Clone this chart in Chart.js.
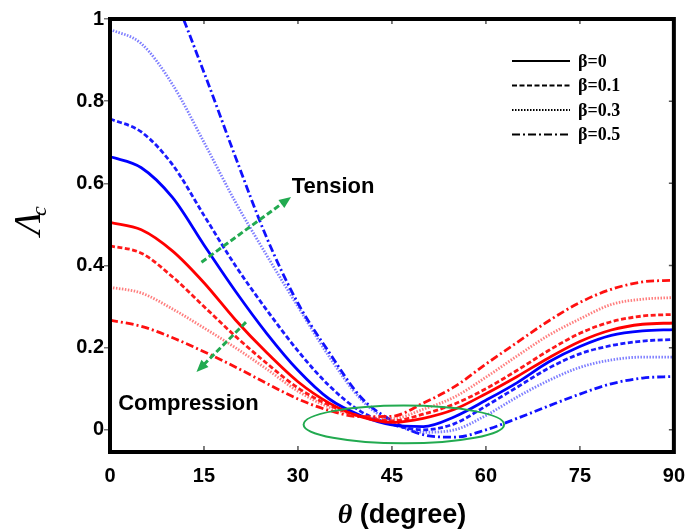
<!DOCTYPE html>
<html>
<head>
<meta charset="utf-8">
<script src="https://cdn.jsdelivr.net/npm/chart.js@4.4.1/dist/chart.umd.min.js"></script>
<style>
  html, body { margin: 0; padding: 0; background: #fff; }
  #wrap { width: 689px; height: 529px; }
</style>
</head>
<body>
<div id="wrap"><canvas id="chart" width="689" height="529"></canvas></div>
<script>
// --- Data ---
const angles = [0, 5, 10, 15, 20, 25, 30, 35, 40, 45, 50, 55, 60, 65, 70, 75, 80, 85, 90];
const tickX = [0, 15, 30, 45, 60, 75, 90];
const tickY = [0, 0.2, 0.4, 0.6, 0.8, 1];
const betaLabels = ['β=0', 'β=0.1', 'β=0.3', 'β=0.5'];

// compression branch (red)
const redB0  = [0.505, 0.487, 0.435, 0.358, 0.268, 0.188, 0.117, 0.065, 0.032, 0.018, 0.028, 0.050, 0.088, 0.130, 0.175, 0.215, 0.243, 0.257, 0.260];
const redB01 = [0.448, 0.430, 0.372, 0.300, 0.228, 0.162, 0.102, 0.060, 0.033, 0.022, 0.038, 0.063, 0.100, 0.145, 0.193, 0.235, 0.263, 0.277, 0.281];
const redB03 = [0.347, 0.333, 0.294, 0.248, 0.200, 0.148, 0.094, 0.055, 0.033, 0.027, 0.050, 0.080, 0.128, 0.180, 0.230, 0.270, 0.305, 0.318, 0.322];
const redB05 = [0.267, 0.252, 0.224, 0.190, 0.153, 0.113, 0.075, 0.047, 0.032, 0.033, 0.065, 0.105, 0.160, 0.213, 0.265, 0.310, 0.342, 0.360, 0.364];

// tension branch (blue)
const blueB0  = [0.665, 0.638, 0.565, 0.450, 0.338, 0.235, 0.145, 0.075, 0.035, 0.012, 0.008, 0.032, 0.072, 0.115, 0.165, 0.203, 0.230, 0.241, 0.244];
const blueB01 = [0.757, 0.725, 0.645, 0.522, 0.400, 0.292, 0.192, 0.107, 0.045, 0.013, 0.000, 0.015, 0.058, 0.104, 0.150, 0.185, 0.205, 0.216, 0.220];
const blueB03 = [0.975, 0.940, 0.840, 0.700, 0.555, 0.425, 0.300, 0.178, 0.075, 0.018, -0.006, 0.000, 0.035, 0.080, 0.120, 0.152, 0.170, 0.177, 0.177];
const blueB05 = [1.240, 1.190, 1.060, 0.870, 0.665, 0.468, 0.308, 0.188, 0.080, 0.022, -0.012, -0.018, 0.000, 0.028, 0.058, 0.087, 0.112, 0.126, 0.130];

// --- Styles ---
const dashes = [[], [5, 2.5], [1.5, 1.5], [8, 3, 2, 3]];
const redColors = ['#ff0000', '#ff1a1a', 'rgba(255,40,40,0.6)', '#ff1010'];
const blueColors = ['#0000ff', '#1a1aff', 'rgba(40,40,255,0.6)', '#1010ff'];
const green = '#22aa50';

const redSets = [redB0, redB01, redB03, redB05];
const blueSets = [blueB0, blueB01, blueB03, blueB05];

function pts(vals) {
    return angles.map((a, i) => ({ x: a, y: vals[i] }));
}

const datasets = [];
redSets.forEach((vals, i) => {
    datasets.push({ label: 'C ' + betaLabels[i], data: pts(vals), borderColor: redColors[i], borderDash: dashes[i] });
});
blueSets.forEach((vals, i) => {
    datasets.push({ label: 'T ' + betaLabels[i], data: pts(vals), borderColor: blueColors[i], borderDash: dashes[i] });
});

// annotation positions in data units
const tensionArrow = { from: [14.6, 0.408], to: [28.9, 0.567] };
const compArrow = { from: [21.7, 0.262], to: [13.8, 0.141] };
const minEllipse = { cx: 46.9, cy: 0.013, rx: 16.0, ry: 0.046 };

function drawArrow(ctx, x, y, a) {
    const x0 = x.getPixelForValue(a.from[0]), y0 = y.getPixelForValue(a.from[1]);
    const x1 = x.getPixelForValue(a.to[0]), y1 = y.getPixelForValue(a.to[1]);
    const ang = Math.atan2(y1 - y0, x1 - x0);
    const head = 12;
    ctx.strokeStyle = green;
    ctx.fillStyle = green;
    ctx.lineWidth = 3;
    ctx.setLineDash([6, 3]);
    ctx.beginPath();
    ctx.moveTo(x0, y0);
    ctx.lineTo(x1 - head * 0.7 * Math.cos(ang), y1 - head * 0.7 * Math.sin(ang));
    ctx.stroke();
    ctx.setLineDash([]);
    ctx.beginPath();
    ctx.moveTo(x1, y1);
    ctx.lineTo(x1 - head * Math.cos(ang) + 5 * Math.sin(ang), y1 - head * Math.sin(ang) - 5 * Math.cos(ang));
    ctx.lineTo(x1 - head * Math.cos(ang) - 5 * Math.sin(ang), y1 - head * Math.sin(ang) + 5 * Math.cos(ang));
    ctx.closePath();
    ctx.fill();
}

const decorPlugin = {
    id: 'decor',
    afterDatasetsDraw(chart) {
        const { ctx, chartArea: a, scales: { x, y } } = chart;
        ctx.save();

        // inner ticks (bottom, top, right)
        ctx.strokeStyle = '#555';
        ctx.lineWidth = 1.5;
        ctx.beginPath();
        tickX.forEach(v => {
            const px = x.getPixelForValue(v);
            ctx.moveTo(px, a.bottom); ctx.lineTo(px, a.bottom - 6);
            ctx.moveTo(px, a.top); ctx.lineTo(px, a.top + 5);
        });
        tickY.forEach(v => {
            const py = y.getPixelForValue(v);
            ctx.moveTo(a.right, py); ctx.lineTo(a.right - 5, py);
        });
        ctx.stroke();

        // frame
        ctx.strokeStyle = '#000';
        ctx.lineWidth = 4;
        ctx.strokeRect(a.left, a.top, a.right - a.left, a.bottom - a.top);

        // ellipse around the minima
        ctx.strokeStyle = green;
        ctx.lineWidth = 2;
        ctx.beginPath();
        const ecx = x.getPixelForValue(minEllipse.cx), ecy = y.getPixelForValue(minEllipse.cy);
        const erx = x.getPixelForValue(minEllipse.cx + minEllipse.rx) - ecx;
        const ery = ecy - y.getPixelForValue(minEllipse.cy + minEllipse.ry);
        ctx.ellipse(ecx, ecy, erx, ery, 0, 0, Math.PI * 2);
        ctx.stroke();

        drawArrow(ctx, x, y, tensionArrow);
        drawArrow(ctx, x, y, compArrow);

        // annotation text
        ctx.fillStyle = '#000';
        ctx.font = 'bold 22px "Liberation Sans", Arial, sans-serif';
        ctx.textAlign = 'left';
        ctx.textBaseline = 'middle';
        ctx.fillText('Tension', x.getPixelForValue(29.0), y.getPixelForValue(0.591));
        ctx.fillText('Compression', x.getPixelForValue(1.3), y.getPixelForValue(0.063));

        // legend (top right)
        const lx0 = 512, lx1 = 570, ly0 = 61, lstep = 24.5;
        betaLabels.forEach((lab, i) => {
            const ly = ly0 + i * lstep;
            ctx.strokeStyle = '#000';
            ctx.lineWidth = 2;
            ctx.setLineDash(dashes[i]);
            ctx.beginPath();
            ctx.moveTo(lx0, ly); ctx.lineTo(lx1, ly);
            ctx.stroke();
            ctx.setLineDash([]);
            ctx.font = 'bold 18px "Liberation Serif", "Times New Roman", serif';
            ctx.fillText(lab, 578, ly + 1);
        });

        // x axis title: θ (degree)
        const fTheta = 'bold italic 28px "Liberation Serif", serif';
        const fDeg = 'bold 27px "Liberation Sans", Arial, sans-serif';
        ctx.font = fTheta;
        const wT = ctx.measureText('θ').width;
        ctx.font = fDeg;
        const wD = ctx.measureText(' (degree)').width;
        const tx = (a.left + a.right) / 2 - (wT + wD) / 2 + 10;
        ctx.textBaseline = 'alphabetic';
        ctx.font = fTheta;
        ctx.fillText('θ', tx, 523);
        ctx.font = fDeg;
        ctx.fillText(' (degree)', tx + wT, 523);

        // y axis title: Λc (rotated)
        ctx.translate(40, 235);
        ctx.rotate(-Math.PI / 2);
        ctx.font = 'italic 38px "Liberation Serif", serif';
        ctx.fillText('Λ', 0, 0);
        const wL = ctx.measureText('Λ').width;
        ctx.font = 'italic 22px "Liberation Serif", serif';
        ctx.fillText('c', wL - 4, 6);

        ctx.restore();
    }
};

const tickFont = { family: '"Liberation Sans", Arial, sans-serif', size: 20, weight: 'bold' };

new Chart(document.getElementById('chart'), {
    type: 'line',
    data: { datasets },
    options: {
        responsive: false,
        animation: false,
        layout: { padding: { left: 0, right: 12, top: 19, bottom: 0 } },
        plugins: { legend: { display: false }, tooltip: { enabled: false } },
        elements: {
            point: { radius: 0 },
            line: { cubicInterpolationMode: 'monotone', borderWidth: 2.8, fill: false }
        },
        scales: {
            x: {
                type: 'linear',
                min: 0, max: 90,
                afterBuildTicks: s => { s.ticks = tickX.map(v => ({ value: v })); },
                grid: { display: false },
                border: { display: false },
                ticks: { font: tickFont, color: '#000', padding: 4, maxRotation: 0 },
                afterFit: s => { s.height = 77; }
            },
            y: {
                min: -0.054, max: 1.0,
                afterBuildTicks: s => { s.ticks = tickY.map(v => ({ value: v })); },
                grid: { drawOnChartArea: false, tickLength: 6, color: '#777', lineWidth: 1.5 },
                border: { display: false },
                ticks: { font: tickFont, color: '#000', padding: 0, callback: v => String(v) },
                afterFit: s => { s.width = 110; }
            }
        }
    },
    plugins: [decorPlugin]
});
</script>
</body>
</html>
